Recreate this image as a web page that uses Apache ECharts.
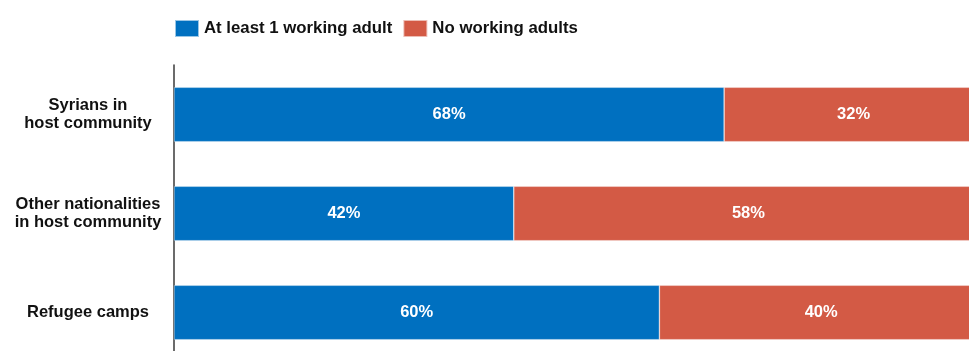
<!DOCTYPE html>
<html>
<head>
<meta charset="utf-8">
<script src="https://cdn.jsdelivr.net/npm/echarts@6/dist/echarts.min.js"></script>
<style>
  html, body { margin: 0; padding: 0; background: #fff; overflow: hidden; width: 969px; height: 351px; }
  #chart { width: 990px; height: 370px; }
</style>
</head>
<body>
<div id="chart"></div>
<script>
// Share of households by presence of working adults
const categories = ['Syrians in\nhost community', 'Other nationalities\nin host community', 'Refugee camps'];
const seriesNames = ['At least 1 working adult', 'No working adults'];
const working = [68, 42, 60];
const noWorking = [32, 58, 40];

const FONT = '"Liberation Sans", Arial, Helvetica, sans-serif';
const colors = ['#0070C0', '#D35A45'];

const chart = echarts.init(document.getElementById('chart'), null, { renderer: 'canvas' });

const labelStyle = {
  show: true,
  position: 'inside',
  color: '#ffffff',
  fontFamily: FONT,
  fontWeight: 'bold',
  fontSize: 16.5,
  formatter: p => p.value + '%'
};

chart.setOption({
  animation: false,
  backgroundColor: '#ffffff',
  color: colors,
  legend: {
    data: seriesNames,
    left: 174,
    top: 19,
    padding: 0,
    itemWidth: 24,
    itemHeight: 17,
    itemGap: 10,
    icon: 'rect',
    textStyle: { fontFamily: FONT, fontWeight: 'bold', fontSize: 16.8, color: '#111' }
  },
  grid: { left: 174, top: 65, right: 7, bottom: 8, containLabel: false },
  xAxis: {
    type: 'value',
    min: 0,
    max: 100,
    show: false
  },
  yAxis: {
    type: 'category',
    data: categories,
    inverse: true,
    axisLine: { show: true, lineStyle: { color: '#3a3a3a', width: 1.5 } },
    axisTick: { show: false },
    axisLabel: {
      margin: 86,
      align: 'center',
      fontFamily: FONT,
      fontWeight: 'bold',
      fontSize: 16.5,
      lineHeight: 18,
      color: '#111'
    }
  },
  series: [
    {
      name: seriesNames[0],
      type: 'bar',
      stack: 'total',
      data: working,
      barWidth: '55%',
      itemStyle: { color: colors[0], borderColor: 'rgba(255,255,255,0.6)', borderWidth: 0.6 },
      label: labelStyle
    },
    {
      name: seriesNames[1],
      type: 'bar',
      stack: 'total',
      data: noWorking,
      barWidth: '55%',
      itemStyle: { color: colors[1], borderColor: 'rgba(255,255,255,0.6)', borderWidth: 0.6 },
      label: labelStyle
    }
  ]
});
</script>
</body>
</html>
